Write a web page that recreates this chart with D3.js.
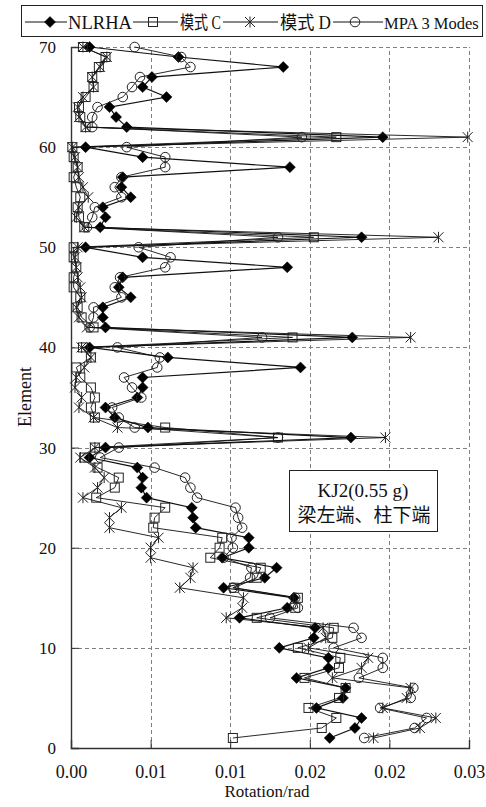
<!DOCTYPE html>
<html><head><meta charset="utf-8">
<script src="https://cdn.jsdelivr.net/npm/d3@7"></script>
<style>
html,body{margin:0;padding:0;background:#fff;}
svg text{font-family:"Liberation Serif","DejaVu Serif",serif,"Noto Sans CJK SC";fill:#111;}
</style></head>
<body>
<svg id="chart" width="486" height="807"></svg>
<script>
const elements = d3.range(1, 71);
const nlrha = [0.0195,0.0214,0.0219,0.0185,0.0205,0.0207,0.0170,0.0194,0.0194,0.0157,
0.0183,0.0184,0.0127,0.0163,0.0168,0.0115,0.0146,0.0155,0.0114,0.0134,
0.0134,0.0094,0.0092,0.0091,0.0057,0.0053,0.0054,0.0050,0.0014,0.0026,
0.0211,0.0058,0.0033,0.0026,0.0050,0.0054,0.0054,0.0173,0.0073,0.0014,
0.0212,0.0026,0.0024,0.0024,0.0045,0.0036,0.0039,0.0163,0.0054,0.0011,
0.0219,0.0022,0.0026,0.0024,0.0045,0.0038,0.0039,0.0165,0.0054,0.0011,
0.0235,0.0042,0.0034,0.0029,0.0072,0.0054,0.0061,0.0160,0.0081,0.0014];
const modeC = [0.0122,0.0189,0.0200,0.0179,0.0202,0.0207,0.0176,0.0202,0.0203,0.0171,
0.0197,0.0198,0.0140,0.0169,0.0171,0.0123,0.0140,0.0143,0.0105,0.0112,
0.0114,0.0062,0.0063,0.0071,0.0019,0.0033,0.0036,0.0020,0.0010,0.0018,
0.0156,0.0071,0.0018,0.0015,0.0018,0.0015,0.0007,0.0004,0.0015,0.0009,
0.0167,0.0017,0.0008,0.0005,0.0007,0.0002,0.0002,0.0004,0.0002,0.0002,
0.0183,0.0010,0.0006,0.0005,0.0007,0.0004,0.0002,0.0005,0.0002,0.0001,
0.0200,0.0011,0.0007,0.0006,0.0011,0.0017,0.0016,0.0021,0.0026,0.0009];
const modeD = [0.0228,0.0263,0.0275,0.0235,0.0253,0.0256,0.0197,0.0219,0.0224,0.0179,
0.0192,0.0190,0.0117,0.0129,0.0130,0.0082,0.0090,0.0092,0.0060,0.0060,
0.0066,0.0029,0.0029,0.0038,0.0009,0.0020,0.0025,0.0018,0.0007,0.0018,
0.0237,0.0035,0.0017,0.0006,0.0008,0.0003,0.0004,0.0010,0.0015,0.0008,
0.0256,0.0012,0.0006,0.0004,0.0008,0.0007,0.0005,0.0004,0.0003,0.0005,
0.0277,0.0010,0.0004,0.0006,0.0013,0.0009,0.0006,0.0005,0.0003,0.0001,
0.0299,0.0011,0.0006,0.0005,0.0009,0.0017,0.0016,0.0022,0.0027,0.0009];
const mpa = [0.0221,0.0259,0.0268,0.0233,0.0256,0.0258,0.0217,0.0235,0.0235,0.0198,
0.0219,0.0213,0.0150,0.0171,0.0169,0.0122,0.0135,0.0136,0.0115,0.0122,
0.0121,0.0129,0.0126,0.0124,0.0095,0.0090,0.0086,0.0063,0.0022,0.0036,
0.0156,0.0048,0.0036,0.0031,0.0053,0.0046,0.0040,0.0065,0.0067,0.0035,
0.0144,0.0014,0.0017,0.0017,0.0038,0.0033,0.0037,0.0071,0.0075,0.0051,
0.0156,0.0012,0.0016,0.0018,0.0038,0.0033,0.0038,0.0071,0.0071,0.0042,
0.0174,0.0016,0.0016,0.0020,0.0039,0.0046,0.0052,0.0090,0.0083,0.0048];
const seriesNames = ["NLRHA","模式 C","模式 D","MPA 3 Modes"];
const xTicks = [0, 0.006, 0.012, 0.018, 0.024, 0.030];
const yTicks = [0, 10, 20, 30, 40, 50, 60, 70];
const xTitle = "Rotation/rad";
const yTitle = "Element";
const noteLines = ["KJ2(0.55 g)", "梁左端、柱下端"];

const FONT = "'Liberation Serif','DejaVu Serif',serif,'Noto Sans CJK SC'";
const svg = d3.select("#chart");
const x = d3.scaleLinear().domain([0, 0.03]).range([71, 469]);
const y = d3.scaleLinear().domain([0, 70]).range([748, 47]);

// grid
const grid = svg.append("g").attr("stroke","#808080").attr("stroke-width",1).attr("stroke-dasharray","4,3").attr("fill","none");
grid.selectAll(".gx").data(xTicks.slice(1)).join("line")
  .attr("x1",d=>Math.round(x(d))+0.5).attr("x2",d=>Math.round(x(d))+0.5).attr("y1",y(0)).attr("y2",y(70));
grid.selectAll(".gy").data(yTicks.slice(1)).join("line")
  .attr("y1",d=>Math.round(y(d))+0.5).attr("y2",d=>Math.round(y(d))+0.5).attr("x1",x(0)).attr("x2",x(0.03));

// axes
const xAxis = d3.axisBottom(x).tickValues(xTicks).tickFormat(d3.format(".2f")).tickSize(-8).tickPadding(17);
const yAxis = d3.axisLeft(y).tickValues(yTicks).tickFormat(d3.format("d")).tickSize(-8).tickPadding(15);
const gx = svg.append("g").attr("transform",`translate(0,${y(0)})`).call(xAxis);
const gy = svg.append("g").attr("transform",`translate(${x(0)},0)`).call(yAxis);
[gx, gy].forEach(g => {
  g.attr("font-family", null);
  g.select(".domain").attr("stroke","#333").attr("stroke-width",1.4);
  g.selectAll(".tick line").attr("stroke","#333").attr("stroke-width",1);
  g.selectAll(".tick text").attr("fill","#111").style("font-family",FONT);
});
gx.selectAll(".tick text").style("font-size","18px");
gy.selectAll(".tick text").style("font-size","17px");

svg.append("text").attr("x",267).attr("y",797).attr("text-anchor","middle").style("font-family",FONT).style("font-size","17px").text(xTitle);
svg.append("text").attr("transform","translate(31,397) rotate(-90)").attr("text-anchor","middle").style("font-family",FONT).style("font-size","18px").text(yTitle);

// markers
function drawMarker(g, type, cx, cy) {
  if (type === 0) {
    const s = 5.5;
    g.append("path").attr("d",`M${cx},${cy-s}L${cx+s},${cy}L${cx},${cy+s}L${cx-s},${cy}Z`).attr("fill","#000").attr("stroke","#000").attr("stroke-width",0.5);
  } else if (type === 1) {
    const s = 4.5;
    g.append("rect").attr("x",cx-s).attr("y",cy-s).attr("width",2*s).attr("height",2*s).attr("fill","none").attr("stroke","#222").attr("stroke-width",1);
  } else if (type === 2) {
    const s = 5;
    g.append("path").attr("d",`M${cx-s},${cy-s}L${cx+s},${cy+s}M${cx-s},${cy+s}L${cx+s},${cy-s}M${cx},${cy-s-0.5}L${cx},${cy+s+0.5}`).attr("fill","none").attr("stroke","#222").attr("stroke-width",1);
  } else {
    g.append("circle").attr("cx",cx).attr("cy",cy).attr("r",4.8).attr("fill","none").attr("stroke","#222").attr("stroke-width",1);
  }
}

const allSeries = [nlrha, modeC, modeD, mpa];
const lineGen = d3.line().x(d=>x(d[1])).y(d=>y(d[0]));
[0,1,2,3].forEach(i => {
  const pts = elements.map((e,k)=>[e, allSeries[i][k]]);
  const g = svg.append("g");
  g.append("path").attr("d", lineGen(pts)).attr("fill","none").attr("stroke","#111").attr("stroke-width", i===0?1.2:0.9);
  pts.forEach(p => drawMarker(g, i, x(p[1]), y(p[0])));
});

// legend
const leg = svg.append("g");
leg.append("rect").attr("x",21.5).attr("y",5.5).attr("width",461).attr("height",31).attr("fill","#fff").attr("stroke","#222").attr("stroke-width",1);
const legItems = [
  {x1:25, x2:67, m:50, tx:68, tw:64, fs:18},
  {x1:133, x2:178, m:153, tx:180, tw:41, fs:18},
  {x1:223, x2:278, m:250, tx:280, tw:51, fs:18},
  {x1:333, x2:383, m:355, tx:384, tw:null, fs:16.5}
];
legItems.forEach((it,i) => {
  leg.append("line").attr("x1",it.x1).attr("x2",it.x2).attr("y1",22).attr("y2",22).attr("stroke","#111").attr("stroke-width",1.2);
  drawMarker(leg, i, it.m, 22);
  const t = leg.append("text").attr("x",it.tx).attr("y",28.5).style("font-family",FONT).style("font-size",it.fs+"px").text(seriesNames[i]);
  if (it.tw) t.attr("textLength",it.tw).attr("lengthAdjust","spacingAndGlyphs");
});

// annotation
const note = svg.append("g");
note.append("rect").attr("x",289.5).attr("y",470.5).attr("width",148).attr("height",61).attr("fill","#fff").attr("stroke","#222").attr("stroke-width",1);
note.append("text").attr("x",363).attr("y",497).attr("text-anchor","middle").style("font-family",FONT).style("font-size","19px").text(noteLines[0]);
note.append("text").attr("x",364).attr("y",522).attr("text-anchor","middle").style("font-family",FONT).style("font-size","19px").text(noteLines[1]);
</script>
</body></html>
